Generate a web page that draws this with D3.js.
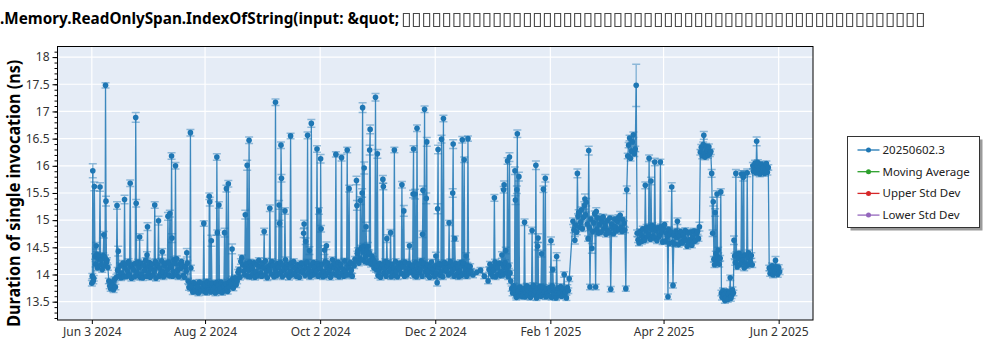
<!DOCTYPE html>
<html>
<head>
<meta charset="utf-8">
<script src="https://cdn.jsdelivr.net/npm/d3@7"></script>
<style>
  html, body { margin: 0; padding: 0; background: #fff; }
  svg { display: block; font-family: "Noto Sans", "Open Sans", sans-serif; }
</style>
</head>
<body>
<svg id="chart" width="1000" height="350"></svg>
<script>
// ---- data -------------------------------------------------------------
const seriesName = "20250602.3";
const firstRunDate = "2024-06-03";

// Runs per calendar day, starting at firstRunDate, in run order.
// Each run is "duration" or "duration:error" (error in hundredths of ns,
// 5 when not written). An empty string is a day without runs.
const dailyRuns = [
  "13.84 13.97 15.91:13 13.88", "13.93 15.62:8 14.33", "14.19 14.53:6 14.37", "14.12 14.29", "14.34 15.61:8 14.18",
  "14.27 14.09", "14.35 14.73:6 14.16", "14.31 17.48:5 15.35:9 14.22", "14.26 14.13", "13.88 13.79",
  "13.74 13.86", "13.80 13.72", "13.91 13.77", "13.95 15.27:7 14.08", "14.43:9 13.98",
  "14.16 13.94", "14.02 14.21", "13.96 15.38:8 14.12", "14.19 13.97", "14.06 14.24",
  "13.99 15.68:6 14.15", "13.93 14.18", "14.09 13.96", "14.20 16.89:9 15.31:7 13.98", "14.04 14.23",
  "14.13 14.69:6 13.95", "14.21 14.01", "13.94 14.17", "14.08 14.26", "13.97 14.36:6 14.88:7 14.14",
  "14.03 14.22", "13.95 14.11", "14.19 13.99", "14.07 15.28:6 14.24", "13.93 14.14",
  "14.18 14.99:8 13.97", "14.12 14.02", "14.25 14.42:6 14.05", "13.96 14.16", "14.21 14.00",
  "14.09 15.07:7 14.23", "13.98 15.12:6 14.17", "14.13 16.18:6 14.67:8 13.97", "14.06 14.27", "14.20 16.00:6 13.99",
  "14.29 14.08", "13.96 14.19", "14.11 14.24", "14.17 13.98", "13.95 14.14",
  "14.06 14.40:8 14.21", "13.88 13.76", "13.83 16.61:6 14.12 13.74", "13.79 13.68", "13.85 13.71",
  "13.69 13.82", "13.77 13.66", "13.86 13.73", "13.70 13.84", "13.78 14.94 13.69",
  "13.81 13.67", "13.87 13.75", "13.72 15.44:6 15.34:8 13.83", "13.68 14.62:10 13.79", "13.84 13.71",
  "13.76 13.66", "13.85 16.16:6 14.77 13.73", "13.80 15.28:6 13.69", "13.74 13.86", "13.67 13.81",
  "13.78 14.77:8 13.70", "13.83 15.58:6 13.74", "13.69 15.67:6 13.85", "13.77 13.88", "13.82 14.47:9 13.92",
  "13.75 13.90", "13.94 13.81", "13.88 14.04", "14.09 13.95", "14.24 14.31",
  "14.18 14.06", "13.99 15.10:8 14.14", "14.20 16.01:9 13.97", "14.08 16.47:6 14.23", "13.96 14.16",
  "14.11 14.02", "14.22 13.95", "14.05 14.18", "13.98 14.26", "14.14 14.03",
  "13.97 14.21", "14.12 14.79:6 13.99", "14.25 14.07", "13.94 14.15", "14.08 15.22:6 14.19",
  "14.01 14.24", "14.17 13.96", "14.10 17.17:6 14.03", "13.98 14.20", "14.13 15.28:8 14.94:6 14.02",
  "14.22 16.38:6 15.77:7 14.06", "13.96 14.17", "14.09 15.17:6 14.27", "14.00 14.13", "14.19 13.95",
  "14.06 16.55 14.21", "13.99 14.14", "14.24 14.03", "14.11 13.97", "14.18 14.07",
  "13.95 14.16", "14.21 14.04", "14.08 14.76:8 14.93:7 14.19", "13.98 14.61:6 14.12", "14.23 16.56:6 14.02",
  "14.10 14.44:7 13.96", "14.17 16.78:7 14.05", "13.99 14.22", "14.14 14.01", "14.07 16.31:6 14.20",
  "13.97 15.17:6 14.15", "14.11 16.13:8 14.84:6 14.02", "14.19 13.96", "14.05 14.45:8 14.24", "13.98 14.53:7 14.13",
  "14.21 14.04", "14.09 13.95", "14.16 14.27", "14.01 14.12", "14.20 16.21 13.99",
  "14.08 14.23", "13.96 14.14", "14.18 16.15:6 14.03", "14.10 13.97", "14.25 14.06",
  "13.99 16.29 14.17", "14.12 15.58:6 14.00", "14.22 14.08", "13.97 14.19", "14.16 14.28",
  "14.25 15.73:8 15.27:9 14.38", "14.44 14.21", "14.30 15.36:7 14.49", "14.27 15.50:8 17.07:9 14.41", "14.52 15.96:11 14.24",
  "14.33 14.88:8 14.46", "14.22 14.52:7 14.37", "14.40 16.29:9 16.67:8 14.26", "14.19 14.34", "14.28 14.12",
  "14.23 17.26:7 14.09", "14.16 16.22:8 13.98", "14.07 14.20", "13.95 14.13", "14.18 15.75:7 15.62:6 14.02",
  "14.11 14.24", "13.97 14.66:7 14.15", "14.22 14.05", "14.09 14.77:6 13.96", "14.19 14.03",
  "14.12 16.29 13.98", "14.24 14.07", "13.96 14.16", "14.10 14.21", "14.02 15.65:6 14.18",
  "14.14 15.17:10 13.97", "14.23 14.05", "13.99 14.13", "14.20 14.53:6 14.08", "14.04 14.17",
  "14.15 15.48:7 16.31:6 13.98", "14.06 15.48:9 14.22", "13.96 16.69:6 14.12", "14.19 14.03", "14.09 14.25",
  "13.97 14.74:6 15.55:8 14.16", "14.21 17.04:6 14.05", "14.11 15.40:10 16.44:8 13.99", "14.18 14.07", "13.95 14.14",
  "14.23 14.04", "14.10 13.97", "14.16 14.34:7 14.02", "13.85:6 15.21:9 16.30:8 14.12", "14.20 13.98",
  "14.05 16.49:7 14.18", "13.96 16.87:6 14.13", "14.22 14.06", "14.09 14.19", "13.99 14.95 14.15",
  "14.24 14.03", "14.08 15.50:8 16.40:8 14.17", "13.97 14.66 14.11", "14.20 14.01", "14.14 13.96",
  "14.06 14.22", "13.98 16.48:6 14.16", "14.21 16.11 14.04", "14.10 14.34:6 13.97", "14.17 16.50 14.07",
  "14.02 14.15", "14.06", "13.99", "", "14.04",
  "", "14.08", "", "13.97", "",
  "13.88 14.09", "14.19 14.02", "14.14 13.97", "14.08 15.41:6 14.23", "13.96 14.17",
  "14.12 14.01", "14.21 13.98", "14.05 14.36:6 14.18", "13.99 15.56:6 15.65:7 14.13", "14.22 14.44:6 14.04",
  "14.10 16.09:6 13.96", "14.16 16.16:8 14.03", "13.88 13.74", "13.66 13.79", "13.71 15.91:7 15.37:8 13.62",
  "13.58 15.56:7 16.59:7 13.75", "13.69 15.80:8 13.61", "13.77 13.64", "13.60 13.72", "13.74 14.96:6 13.59",
  "13.67 13.79", "13.62 13.70", "13.76 13.58", "13.64 14.81:6 13.73", "13.80 13.63",
  "13.69 16.01:8 13.57", "13.75 14.52:7 14.67:8 13.62", "13.66 13.78", "13.60 14.38:6 13.71", "13.77 15.57:6 13.63",
  "13.68 15.77:7 13.59", "13.74 13.65", "13.61 13.76", "13.70 14.62:7 13.58", "13.79 14.09 13.66",
  "13.63 13.72", "13.57 14.33:7 13.69", "13.75 13.62", "13.66 13.78", "13.60 13.71",
  "13.73 14.00 13.64", "13.68 13.57", "13.76 13.70", "13.92", "",
  "14.98:6 14.82", "14.63:7 14.91", "14.78 15.86:8 15.07", "15.14 14.87", "14.96 15.19",
  "14.84 15.05", "15.27:7 15.39:9 15.10", "15.33:7 14.93", "14.66 16.28:8 14.86", "13.77 15.02",
  "14.48:9 14.79", "14.95 15.12", "13.77 15.16:7 14.83", "15.04:8 14.76", "14.92 15.03",
  "14.78 14.97", "15.06 14.84", "14.90 14.74", "14.99 14.81", "14.77 15.04",
  "13.73 14.93", "14.86 14.75", "15.02 14.88", "14.80 14.98", "15.05 14.83",
  "15.09:7 14.87", "14.79 15.01", "14.94 14.82", "13.74 15.56:7", "16.18 16.38",
  "16.51 16.14", "16.27 16.44", "16.57 16.22", "16.31 17.48:39", "14.76:6 14.64",
  "14.58 14.79", "14.72 14.61", "14.84 14.68", "14.63 15.64:6 14.80", "14.87 14.70",
  "14.74 16.14:6 14.88", "14.65 15.72:7 14.82", "14.90 14.71", "14.67 16.07:7 14.85", "14.81 14.62",
  "14.86 14.69", "14.73 16.07 14.88", "14.79 14.60", "14.84 14.92", "14.61 14.76",
  "14.70 13.59 14.83", "14.57 14.74", "14.78 15.61:8 14.59", "13.80 14.72", "14.56 14.80",
  "14.68 14.98:6 14.75", "14.55 14.71", "14.79 14.60", "14.58 14.73", "14.66 14.81",
  "14.62 14.52", "14.77 14.58", "14.64 14.78", "14.54 14.69", "14.80 14.61",
  "14.63 14.75", "14.79 14.66", "14.88:8 16.25", "16.34 16.18", "16.39 16.56:7 16.24",
  "16.16 16.36", "16.28 16.19", "16.35 16.22", "16.26 15.86:7", "14.76:6 15.34:8 14.28",
  "14.18 15.14:7 14.38", "14.24 15.48:6 14.33", "14.45 14.19", "14.30 15.52:6 13.66", "13.58 13.70",
  "13.63 13.52", "13.57 13.69", "13.54 13.64", "13.67 13.94 13.56", "13.61 13.72",
  "13.66 14.63:8 14.34", "14.22 15.86:7 14.37", "14.14 14.30", "14.39 14.18", "14.21 15.85:6 14.33",
  "14.27 15.79:7 15.85:6 14.12", "14.36 14.20", "14.16 15.87:7 14.31", "14.40 14.19", "14.24 14.35",
  "14.18 16.00:6 15.90", "15.96 16.05", "15.87 16.45:8 16.00", "16.06 15.92", "15.85 15.99",
  "16.03 15.89", "15.97 15.86", "15.93 16.04", "15.88 15.97", "14.12 14.02",
  "14.07 14.16", "13.99 14.11", "14.05 14.26:7 14.14", "14.10 14.00", "14.13 14.05"
];

const xTickDates = ["2024-06-03", "2024-08-02", "2024-10-02", "2024-12-02", "2025-02-01", "2025-04-02", "2025-06-02"];
const yTickValues = [13.5, 14, 14.5, 15, 15.5, 16, 16.5, 17, 17.5, 18];
const legendLabels = [seriesName, "Moving Average", "Upper Std Dev", "Lower Std Dev"];
const legendColors = ["#1f77b4", "#2ca02c", "#d62728", "#9467bd"];

const titleHead = ".Memory.ReadOnlySpan.IndexOfString(input: &quot;";
const titleTail = "▯▯▯▯▯▯▯▯▯▯▯▯▯▯▯▯▯▯▯▯▯▯▯▯▯▯▯▯▯▯▯▯▯▯▯▯▯▯▯▯▯▯▯▯▯▯▯▯▯▯▯▯";
const yAxisTitle = "Duration of single invocation (ns)";

// ---- layout -----------------------------------------------------------
const plot = { left: 57.5, top: 46.5, right: 813, bottom: 320 };
const DAY = 864e5;
const parseDay = d3.utcParse("%Y-%m-%d");
const day0 = parseDay(firstRunDate).getTime();

const points = [];
dailyRuns.forEach((day, i) => {
  const runs = day.split(" ").filter(s => s.length);
  runs.forEach((run, k) => {
    const [v, e] = run.split(":");
    points.push({
      date: new Date(day0 + (i + k / runs.length) * DAY),
      value: +v,
      err: (e === undefined ? 5 : +e) / 100
    });
  });
});

const first = d3.min(points, d => d.date).getTime();
const last = day0 + (dailyRuns.length - 1) * DAY;
const pad = 18.2 * DAY;

const x = d3.scaleUtc()
  .domain([new Date(first - pad), new Date(last + pad)])
  .range([plot.left, plot.right]);
const y = d3.scaleLinear()
  .domain([13.163, 18.195])
  .range([plot.bottom, plot.top]);

const svg = d3.select("#chart");
const blue = legendColors[0];

// plot background
svg.append("rect")
  .attr("x", plot.left).attr("y", plot.top)
  .attr("width", plot.right - plot.left).attr("height", plot.bottom - plot.top)
  .attr("fill", "#e5ecf6");

// grid
const grid = svg.append("g").attr("stroke", "#fff").attr("stroke-width", 1.2);
grid.selectAll("line.gy").data(yTickValues).join("line")
  .attr("x1", plot.left).attr("x2", plot.right)
  .attr("y1", d => y(d)).attr("y2", d => y(d));
grid.selectAll("line.gx").data(xTickDates.map(parseDay)).join("line")
  .attr("y1", plot.top).attr("y2", plot.bottom)
  .attr("x1", d => x(d)).attr("x2", d => x(d));

// data
svg.append("clipPath").attr("id", "plotClip")
  .append("rect")
  .attr("x", plot.left).attr("y", plot.top)
  .attr("width", plot.right - plot.left).attr("height", plot.bottom - plot.top);
const layer = svg.append("g").attr("clip-path", "url(#plotClip)");

const line = d3.line().x(d => x(d.date)).y(d => y(d.value));
layer.append("path")
  .datum(points)
  .attr("fill", "none")
  .attr("stroke", blue)
  .attr("stroke-opacity", 0.85)
  .attr("stroke-width", 1.3)
  .attr("d", line);

const bars = layer.append("g")
  .attr("stroke", blue)
  .attr("stroke-opacity", 0.45)
  .attr("stroke-width", 1.5);
bars.selectAll("path").data(points).join("path")
  .attr("fill", "none")
  .attr("d", d => {
    const cx = x(d.date), y1 = y(d.value + d.err), y2 = y(d.value - d.err);
    return `M${cx - 4},${y1}H${cx + 4}M${cx},${y1}V${y2}M${cx - 4},${y2}H${cx + 4}`;
  });

layer.append("g").selectAll("circle").data(points).join("circle")
  .attr("cx", d => x(d.date))
  .attr("cy", d => y(d.value))
  .attr("r", 2.8)
  .attr("fill", blue);

// frame
svg.append("rect")
  .attr("x", plot.left).attr("y", plot.top)
  .attr("width", plot.right - plot.left).attr("height", plot.bottom - plot.top)
  .attr("fill", "none").attr("stroke", "#000").attr("stroke-width", 1);

// y axis
const yAxis = svg.append("g").attr("transform", `translate(${plot.left},0)`);
yAxis.call(d3.axisLeft(y).tickValues(y.ticks(50)).tickSize(3).tickFormat(""))
  .call(g => g.select(".domain").remove());
yAxis.append("g")
  .call(d3.axisLeft(y).tickValues(yTickValues).tickSize(5).tickPadding(3).tickFormat(d3.format("")))
  .call(g => g.select(".domain").remove())
  .call(g => g.selectAll("text")
    .attr("font-family", "'Noto Sans', sans-serif")
    .attr("font-size", 12).attr("fill", "#333"));
yAxis.selectAll("line").attr("stroke", "#000");

// x axis
const xAxis = svg.append("g").attr("transform", `translate(0,${plot.bottom})`);
xAxis.call(d3.axisBottom(x)
    .tickValues(xTickDates.map(parseDay))
    .tickSize(4).tickPadding(3)
    .tickFormat(d3.utcFormat("%b %-d %Y")))
  .call(g => g.select(".domain").remove())
  .call(g => g.selectAll("line").attr("stroke", "#000"))
  .call(g => g.selectAll("text")
    .attr("font-family", "'Noto Sans', sans-serif")
    .attr("font-size", 12).attr("fill", "#333"));

// axis title
svg.append("text")
  .attr("transform", `translate(20,${(plot.top + plot.bottom) / 2 + 10}) rotate(-90)`)
  .attr("text-anchor", "middle")
  .attr("font-weight", "bold")
  .attr("font-size", 17)
  .attr("fill", "#000")
  .attr("textLength", 267)
  .attr("lengthAdjust", "spacingAndGlyphs")
  .text(yAxisTitle);

// chart title: readable head, then the glyphs the font could not show
svg.append("text")
  .attr("x", 0).attr("y", 24)
  .attr("font-weight", "bold").attr("font-size", 16)
  .attr("fill", "#000")
  .attr("textLength", 399).attr("lengthAdjust", "spacingAndGlyphs")
  .text(titleHead);
const tail = svg.append("text")
  .attr("x", 401).attr("y", 25)
  .attr("font-family", "'DejaVu Sans', sans-serif")
  .attr("font-size", 19)
  .attr("fill", "#444")
  .attr("opacity", 0.99)
  .style("will-change", "transform")
  .text(titleTail);
const tailCount = [...titleTail].length;
const tailNatural = tail.node().getComputedTextLength();
tail.attr("letter-spacing", (524 - tailNatural) / tailCount);

// legend
const legend = svg.append("g").attr("transform", "translate(847.5,136.5)");
legend.append("rect")
  .attr("x", 3).attr("y", 3).attr("width", 132).attr("height", 91)
  .attr("fill", "#9a9a9a");
legend.append("rect")
  .attr("width", 132).attr("height", 91)
  .attr("fill", "#fff").attr("stroke", "#333").attr("stroke-width", 1);
const rows = legend.selectAll("g.row").data(legendLabels).join("g")
  .attr("transform", (d, i) => `translate(0,${13.5 + i * 21.7})`);
rows.append("line")
  .attr("x1", 10).attr("x2", 32)
  .attr("stroke", (d, i) => legendColors[i]).attr("stroke-width", 1.3);
rows.append("circle")
  .attr("cx", 21).attr("r", 2.5)
  .attr("fill", (d, i) => legendColors[i]);
rows.append("text")
  .attr("x", 35).attr("dy", "0.35em")
  .attr("font-size", 11.5).attr("fill", "#222")
  .text(d => d);
</script>
</body>
</html>
